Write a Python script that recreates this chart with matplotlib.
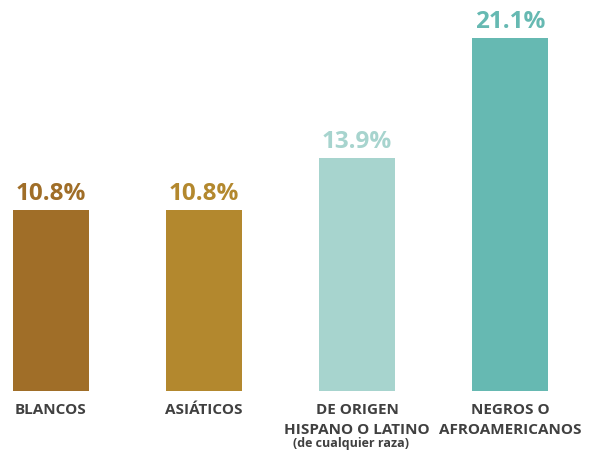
import matplotlib.pyplot as plt

# Data
categories = ['BLANCOS', 'ASIÁTICOS', 'DE ORIGEN\nHISPANO O LATINO', 'NEGROS O\nAFROAMERICANOS']
notes = ['', '', '(de cualquier raza)', '']
values = [10.8, 10.8, 13.9, 21.1]
value_labels = ['10.8%', '10.8%', '13.9%', '21.1%']
colors = ['#A06E28', '#B3882E', '#A7D4CE', '#66B9B2']

plt.rcParams['font.family'] = ['Open Sans', 'DejaVu Sans']

fig = plt.figure(figsize=(6.03, 4.51), dpi=100)
ax = fig.add_axes([0, 0, 1, 1])

x = list(range(len(values)))
ax.bar(x, values, width=0.5, color=colors)

# scale: 153 px between bars, ~16.73 px per percent, baseline 60 px from bottom
px_x = 153.0
px_y = 16.73
ax.set_xlim(-51 / px_x, (603 - 51) / px_x)
ax.set_ylim(-60 / px_y, 391 / px_y)
ax.axis('off')

for xi, v, lab, c in zip(x, values, value_labels, colors):
    ax.annotate(lab, (xi, v), xytext=(0, 7.5), textcoords='offset points',
                ha='center', va='baseline', fontsize=17.5, fontweight='bold', color=c)

for xi, cat, note in zip(x, categories, notes):
    for i, line in enumerate(cat.split('\n')):
        ax.annotate(line, (xi, 0), xytext=(0, -16.6 - i * 14.4), textcoords='offset points',
                    ha='center', va='baseline', fontsize=11, fontweight='bold', color='#404040')
    if note:
        ax.annotate(note, (xi, 0), xytext=(-4, -40.5), textcoords='offset points',
                    ha='center', va='baseline', fontsize=9, fontweight='bold', color='#404040')

fig.savefig('out.png', dpi=100)
